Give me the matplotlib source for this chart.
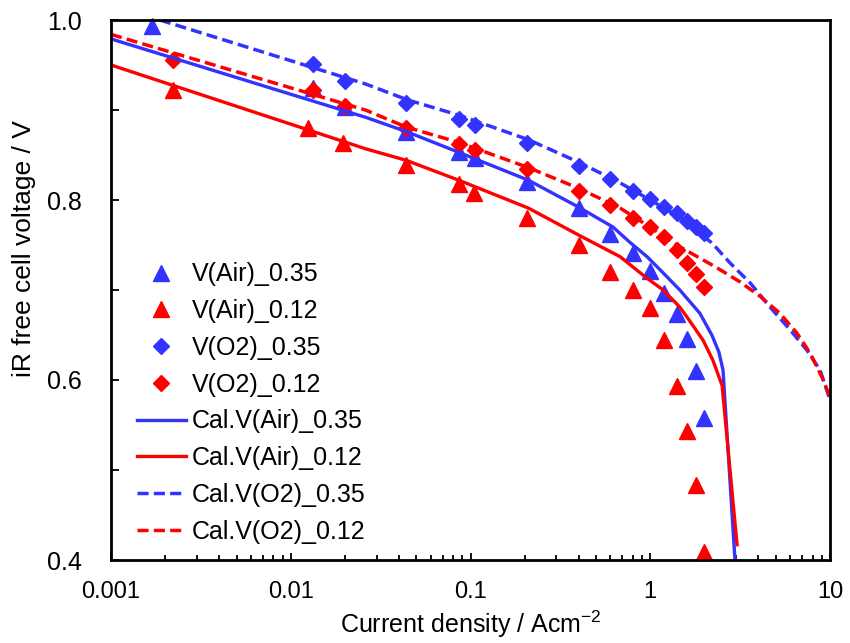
import matplotlib
matplotlib.use("Agg")
import matplotlib.pyplot as plt
import matplotlib.ticker as tck

plt.rcParams['font.family'] = ['Liberation Sans', 'DejaVu Sans']
plt.rcParams['mathtext.fontset'] = 'custom'
plt.rcParams['mathtext.rm'] = 'Liberation Sans'
plt.rcParams['mathtext.it'] = 'Liberation Sans'

BLUE = "#3333FF"
RED = "#FF0000"

# measured points
j_air35 = [0.0017, 0.0133, 0.02, 0.044, 0.086, 0.106, 0.206, 0.40, 0.60, 0.80, 1.0, 1.2, 1.4, 1.6, 1.8, 2.0]
v_air35 = [0.993, 0.924, 0.903, 0.876, 0.853, 0.847, 0.820, 0.791, 0.762, 0.741, 0.721, 0.697, 0.673, 0.646, 0.610, 0.558]

j_air12 = [0.0022, 0.0125, 0.0195, 0.044, 0.086, 0.105, 0.206, 0.40, 0.60, 0.80, 1.0, 1.2, 1.4, 1.6, 1.8, 2.0]
v_air12 = [0.922, 0.880, 0.863, 0.839, 0.818, 0.808, 0.780, 0.750, 0.720, 0.700, 0.680, 0.644, 0.593, 0.543, 0.483, 0.409]

j_o2_35 = [0.0133, 0.02, 0.044, 0.086, 0.106, 0.206, 0.40, 0.60, 0.80, 1.0, 1.2, 1.4, 1.6, 1.8, 2.0]
v_o2_35 = [0.951, 0.932, 0.908, 0.890, 0.883, 0.863, 0.838, 0.823, 0.810, 0.801, 0.792, 0.786, 0.777, 0.770, 0.763]

j_o2_12 = [0.0022, 0.0133, 0.02, 0.044, 0.086, 0.106, 0.206, 0.40, 0.60, 0.80, 1.0, 1.2, 1.4, 1.6, 1.8, 2.0]
v_o2_12 = [0.956, 0.922, 0.904, 0.880, 0.862, 0.856, 0.834, 0.810, 0.794, 0.780, 0.770, 0.759, 0.744, 0.730, 0.718, 0.703]

# calculated curves
cal_air35_j = [0.001, 0.026, 0.044, 0.086, 0.21, 0.40, 0.62, 0.77, 0.96, 1.18, 1.46, 1.89, 2.20, 2.41, 2.54, 2.96]
cal_air35_v = [0.979, 0.892, 0.876, 0.853, 0.822, 0.792, 0.770, 0.753, 0.737, 0.719, 0.700, 0.674, 0.650, 0.631, 0.611, 0.400]

cal_air12_j = [0.001, 0.026, 0.044, 0.086, 0.21, 0.40, 0.68, 0.96, 1.18, 1.46, 1.60, 1.97, 2.23, 2.51, 3.04]
cal_air12_v = [0.950, 0.857, 0.844, 0.822, 0.791, 0.761, 0.737, 0.713, 0.700, 0.681, 0.670, 0.644, 0.622, 0.594, 0.417]

cal_o2_35_j = [0.00187, 0.026, 0.045, 0.087, 0.21, 0.40, 0.68, 0.96, 1.46, 2.21, 2.78, 3.59, 4.64, 5.99, 7.45, 8.80, 10.0]
cal_o2_35_v = [1.000, 0.929, 0.911, 0.894, 0.867, 0.842, 0.819, 0.802, 0.781, 0.752, 0.730, 0.708, 0.681, 0.656, 0.633, 0.611, 0.578]

cal_o2_12_j = [0.001, 0.026, 0.044, 0.086, 0.21, 0.40, 0.68, 0.96, 1.46, 2.29, 3.16, 4.08, 5.27, 6.55, 7.74, 9.03, 10.0]
cal_o2_12_v = [0.984, 0.900, 0.881, 0.864, 0.836, 0.813, 0.791, 0.772, 0.748, 0.726, 0.709, 0.693, 0.674, 0.652, 0.630, 0.603, 0.581]

fig = plt.figure(figsize=(8.5, 6.43), dpi=100)
ax = fig.add_axes([111/850, 1 - 560/643, 719/850, 540/643])

ax.plot(j_air35, v_air35, ls='none', marker='^', ms=11.5, color=BLUE, clip_on=False, label='V(Air)_0.35')
ax.plot(j_air12, v_air12, ls='none', marker='^', ms=11.5, color=RED, clip_on=False, label='V(Air)_0.12')
ax.plot(j_o2_35, v_o2_35, ls='none', marker='D', ms=8, color=BLUE, clip_on=False, label='V(O2)_0.35')
ax.plot(j_o2_12, v_o2_12, ls='none', marker='D', ms=8, color=RED, clip_on=False, label='V(O2)_0.12')

ax.plot(cal_air35_j, cal_air35_v, '-', lw=2.4, color=BLUE, label='Cal.V(Air)_0.35')
ax.plot(cal_air12_j, cal_air12_v, '-', lw=2.4, color=RED, label='Cal.V(Air)_0.12')
ax.plot(cal_o2_35_j, cal_o2_35_v, '--', lw=2.5, color=BLUE, dashes=(3.2, 1.5), label='Cal.V(O2)_0.35')
ax.plot(cal_o2_12_j, cal_o2_12_v, '--', lw=2.5, color=RED, dashes=(3.2, 1.5), label='Cal.V(O2)_0.12')

ax.set_xscale('log')
ax.set_xlim(0.001, 10)
ax.set_ylim(0.4, 1.0)

ax.xaxis.set_major_locator(tck.LogLocator(base=10))
ax.xaxis.set_minor_locator(tck.LogLocator(base=10, subs=range(2, 10)))
ax.xaxis.set_major_formatter(tck.FuncFormatter(lambda v, p: '{:g}'.format(v)))
ax.xaxis.set_minor_formatter(tck.NullFormatter())
ax.yaxis.set_major_locator(tck.MultipleLocator(0.2))
ax.yaxis.set_minor_locator(tck.MultipleLocator(0.1))
ax.yaxis.set_major_formatter(tck.FormatStrFormatter('%.1f'))

ax.tick_params(axis='both', which='both', direction='in', top=False, right=False, color='black')
ax.tick_params(axis='x', which='major', length=5, width=1.3, pad=15, labelsize=17)
ax.tick_params(axis='x', which='minor', length=3.5, width=1.3)
ax.tick_params(axis='y', which='both', length=6, width=1.3, pad=21, labelsize=18)

for s in ax.spines.values():
    s.set_linewidth(2)
    s.set_color('black')

ax.set_xlabel('Current density / Acm$^{-2}$', fontsize=18, va='center')
ax.xaxis.set_label_coords(0.5, -0.1185)
ax.set_ylabel('iR free cell voltage / V', fontsize=19, va='center')
ax.yaxis.set_label_coords(-0.121, 0.576)

ax.legend(loc='upper left', bbox_to_anchor=(0.036, 0.551), frameon=False, fontsize=18,
          borderaxespad=0, borderpad=0, handlelength=1.96, handletextpad=0.24,
          labelspacing=0.51, numpoints=1)

fig.savefig('out.png', dpi=100)
